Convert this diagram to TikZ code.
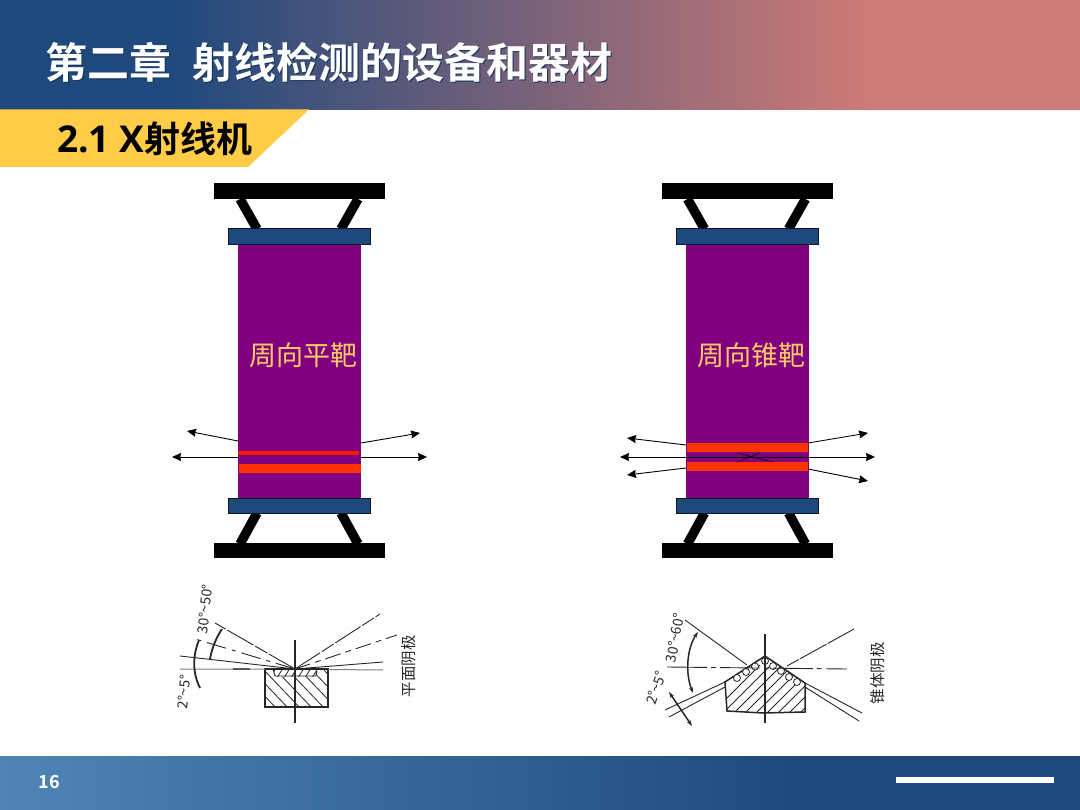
\documentclass[tikz,border=0pt]{standalone}
\usepackage{fontspec}
\usetikzlibrary{arrows.meta}
\setmainfont{Noto Sans CJK SC}
\newfontfamily\cjk[BoldFont={Noto Sans CJK SC Bold}]{Noto Sans CJK SC}
\newfontfamily\latinbold[BoldFont={Open Sans Bold}]{Open Sans}
\definecolor{hdrblue}{HTML}{1F497D}
\definecolor{hdrpink}{HTML}{CE7A76}
\definecolor{tabyellow}{HTML}{FFCC47}
\definecolor{tubepurple}{HTML}{800080}
\definecolor{capblue}{HTML}{1F497D}
\definecolor{bandred}{HTML}{FF3300}
\definecolor{labelgold}{HTML}{FFCC66}
\definecolor{footlight}{HTML}{4F85B5}
\definecolor{sketch}{HTML}{262626}
\tikzset{
  x=1pt,y=-1pt,
  ray/.style={-{Stealth[length=9pt,width=8pt,inset=.8pt]},black,line width=.9pt},
  leg/.style={black,line width=9.5pt},
  capbar/.style={fill=capblue,draw=black!70!capblue,line width=.7pt},
  baseplate/.style={fill=black},
  tube/.style={fill=tubepurple},
  band/.style={fill=bandred},
  tubelabel/.style={text=labelgold,font=\cjk\fontsize{27}{27}\selectfont,inner sep=0pt},
  skl/.style={draw=sketch,line width=.9pt},
  skb/.style={draw=sketch,line width=1.5pt},
  skh/.style={draw=sketch,line width=.8pt},
  sktxt/.style={text=sketch,inner sep=0pt,font=\cjk\fontsize{14}{14}\selectfont},
  skcjk/.style={text=sketch,inner sep=0pt,font=\cjk\fontsize{15.5}{16}\selectfont},
}
\newcommand{\tubeframe}[1]{%
\begin{scope}[xshift=#1]
  \draw[leg] (240,199)--(257,229);
  \draw[leg] (358,199)--(341,229);
  \draw[leg] (257,513)--(240,544);
  \draw[leg] (341,513)--(358,544);
  \fill[baseplate] (214,183) rectangle (385,199);
  \fill[baseplate] (214,543) rectangle (385,558);
  \fill[tube] (238,244) rectangle (361,498);
  \draw[capbar] (228.5,228.5) rectangle (370.5,244);
  \draw[capbar] (228.5,498) rectangle (370.5,513.5);
\end{scope}}
\begin{document}
\begin{tikzpicture}
\useasboundingbox (0,0) rectangle (1080,810);
% header
\fill[hdrblue] (0,0) rectangle (171,110);
\shade[left color=hdrblue,right color=hdrpink,shading angle=90,draw=none] (170,0) rectangle (871,110);
\fill[hdrpink] (870,0) rectangle (1080,110);
\fill[tabyellow] (0,109.5)--(309,109.5)--(248,167)--(0,167)--cycle;
\node[anchor=west,inner sep=0pt,text=black!30!hdrblue] (titleshadow) at (46.5,63.3) {\cjk\bfseries\fontsize{42}{42}\selectfont 第二章\hspace{21pt}射线检测的设备和器材};
\node[anchor=west,inner sep=0pt,text=white] (title) at (45.5,62.3) {\cjk\bfseries\fontsize{42}{42}\selectfont 第二章\hspace{21pt}射线检测的设备和器材};
\node[anchor=west,inner sep=0pt,text=black] (subtitle) at (57,139) {\latinbold\bfseries\fontsize{37}{38}\selectfont 2.1 X\cjk\bfseries\fontsize{36}{36}\selectfont 射线机};
% footer
\shade[left color=footlight,right color=hdrblue,draw=none] (0,756) rectangle (800,810);
\fill[hdrblue] (799,756) rectangle (1080,810);
\fill[white] (896,777) rectangle (1054,783);
\node[text=white,inner sep=0pt] (pageno) at (49,782) {\cjk\bfseries\fontsize{18}{18}\selectfont 16};
% left tube
\tubeframe{0}
\fill[band,fill=red!80!orange] (238,451.5) rectangle (359,455.5);
\fill[band] (239,464) rectangle (361,473);
\node[tubelabel] (lefttext) at (303.5,355) {周向平靶};
\draw[ray] (238,441)--(187,431);
\draw[ray] (238,457)--(172,457);
\draw[ray] (361,443)--(420,433);
\draw[ray] (361,457)--(427,457);
% right tube
\tubeframe{447.5}
\fill[band] (687,443) rectangle (808,452);
\fill[band] (687,462) rectangle (808,471);
\draw[black,line width=.6pt] (737,453)--(773,462) (760,453)--(737,462);
\node[tubelabel] (righttext) at (751.5,355) {周向锥靶};
\draw[ray] (686,445)--(627,438);
\draw[ray] (686,468)--(627,475);
\draw[ray] (808,443)--(868,433);
\draw[ray] (808,469)--(868,481);
\draw[ray,{Stealth[length=9pt,width=8pt,inset=.8pt]}-{Stealth[length=9pt,width=8pt,inset=.8pt]}] (620,457)--(875,457);
% left sketch: flat anode
\begin{scope}
  \clip (266,670) rectangle (327,707);
  \foreach \i in {-2,...,8} \draw[skh] (238+\i*12,668)--(278+\i*12,710);
\end{scope}
\fill[white] (274,669.5) rectangle (316,676.5);
\begin{scope}
  \clip (274,670) rectangle (316,676.5);
  \foreach \i in {0,...,7} \draw[skh] (270+\i*7,678)--(276+\i*7,668);
\end{scope}
\draw[skb] (265,669)--(265,707)--(328,707)--(328,669)--cycle;
\draw[skl] (273,669)--(275,676)--(316,676)--(317,669);
\draw[skb] (295,640)--(295,723);
\draw[black!50,line width=1pt] (180,669)--(265,669) (328,669.5)--(383,670);
\draw[black!65,line width=1.6pt] (233,669)--(250,669);
\draw[skl,dash pattern=on 30pt off 2pt on 14pt off 2pt] (295,669)--(380,614);
\draw[skl,dash pattern=on 16pt off 5pt on 6pt off 5pt] (295,669)--(397,635);
\draw[skl] (295,669)--(383,662);
\draw[skl,dash pattern=on 30pt off 2pt on 14pt off 2pt] (295,669)--(215,623);
\draw[skl,dash pattern=on 20pt off 6pt on 4pt off 6pt] (295,669)--(192,638);
\draw[skl] (295,669)--(180,656);
\draw[skb,line width=1.8pt] (210,659) .. controls (212,648) and (216,638) .. (222,629);
\draw[skb,line width=1.8pt] (199,640) .. controls (194,652) and (191,670) .. (200,688);
\node[sktxt,rotate=84] (la) at (205,609) {30°\textasciitilde 50°};
\node[sktxt,rotate=84] (lb) at (184,692) {2°\textasciitilde 5°};
\node[skcjk,rotate=90] (lc) at (409,666) {平面阴极};
% right sketch: cone anode
\begin{scope}
  \clip (725,682)--(765,656)--(805,683)--(805,712)--(763,713)--(727,711)--cycle;
  \foreach \i in {0,...,12} \draw[skh] (700+\i*11,725)--(760+\i*11,665);
\end{scope}
\draw[skb] (725,682)--(765,656)--(805,683)--(805,712)--(763,713)--(727,711)--cycle;
\foreach \p in {(737,678),(746,672),(755,666.5),(765,661),(773,666),(781,671),(789,677),(797,682)}
  \draw[skl,line width=.8pt,fill=white] \p circle (3.5pt);
\draw[skb] (765,634)--(765,723);
\draw[skl,dash pattern=on 40pt off 4pt on 5pt off 4pt] (667,667)--(847,669);
\draw[skl] (685,620)--(747,665);
\draw[skl,dash pattern=on 30pt off 1.5pt] (854,629)--(787,666);
\draw[skl] (665,710)--(725,682) (669,717)--(725,687);
\draw[skl] (805,683)--(862,713) (805,687)--(859,721);
\draw[skb,{Stealth[length=6pt,width=4pt]}-{Stealth[length=6pt,width=4pt]}] (698,632) .. controls (687,648) and (685,673) .. (693,693);
\draw[skb,{Stealth[length=6pt,width=4pt]}-{Stealth[length=6pt,width=4pt]}] (669,692)--(692,726);
\node[sktxt,rotate=80] (ra) at (675,638) {30°\textasciitilde 60°};
\node[sktxt,rotate=70] (rb) at (656,688) {2°\textasciitilde 5°};
\node[skcjk,rotate=90] (rc) at (878,673) {锥体阴极};
\end{tikzpicture}
\end{document}
